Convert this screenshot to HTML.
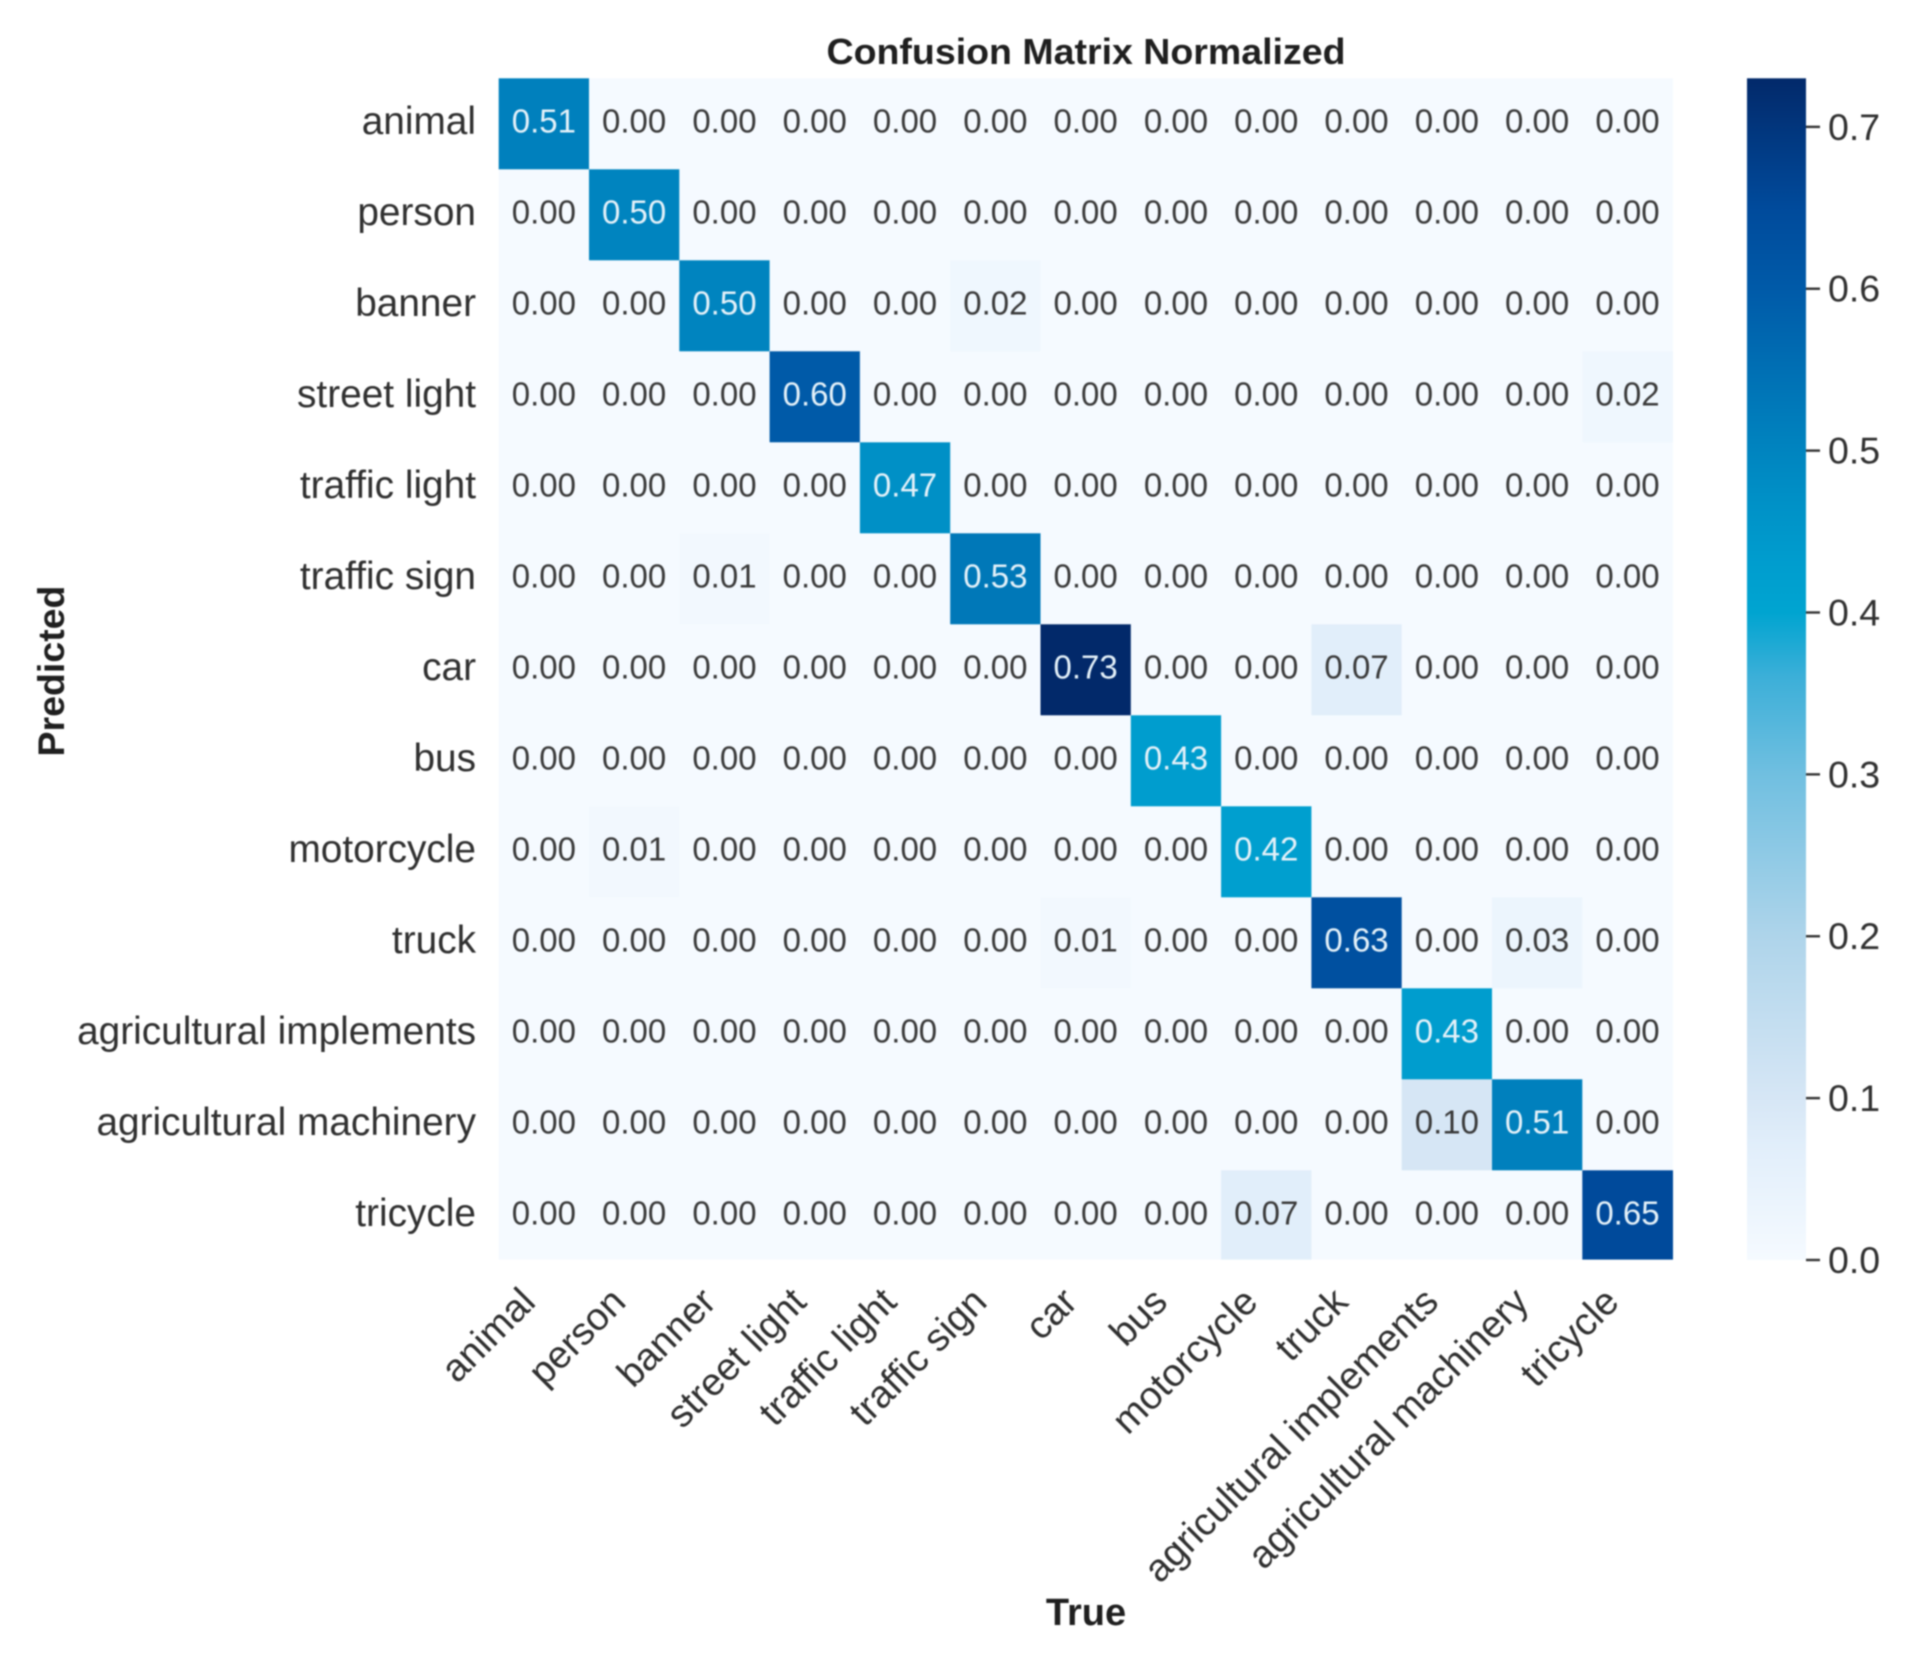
<!DOCTYPE html>
<html lang="en">
<head>
<meta charset="utf-8">
<title>Confusion Matrix Normalized</title>
<style>
  html, body { margin: 0; padding: 0; background: #ffffff; }
  #chart { display: block; filter: blur(0.7px); }
  text { font-family: "Liberation Sans", Arial, sans-serif; }
</style>
</head>
<body>
<svg id="chart" xmlns="http://www.w3.org/2000/svg" width="1925" height="1653" viewBox="0 0 1925 1653">
  <defs>
    <linearGradient id="cbar-gradient" x1="0" y1="1" x2="0" y2="0"></linearGradient>
  </defs>
  <rect x="0" y="0" width="1925" height="1653" fill="#ffffff"></rect>
  <text x="1086" y="64" font-size="36" font-weight="700" fill="#1f1f1f" text-anchor="middle" textLength="519" lengthAdjust="spacingAndGlyphs">Confusion Matrix Normalized</text>
  <text x="1086" y="1625" font-size="38" font-weight="700" fill="#1f1f1f" text-anchor="middle">True</text>
  <text transform="translate(64 671) rotate(-90)" font-size="37.5" font-weight="700" fill="#1f1f1f" text-anchor="middle">Predicted</text>
  <g id="cells"></g>
  <g id="values"></g>
  <g id="y-labels"></g>
  <g id="x-labels"></g>
  <g id="colorbar"></g>
</svg>
<script>
const categories = ["animal", "person", "banner", "street light", "traffic light", "traffic sign", "car", "bus", "motorcycle", "truck", "agricultural implements", "agricultural machinery", "tricycle"];
const row0 = [0.51, 0, 0, 0, 0, 0, 0, 0, 0, 0, 0, 0, 0];
const row1 = [0, 0.50, 0, 0, 0, 0, 0, 0, 0, 0, 0, 0, 0];
const row2 = [0, 0, 0.50, 0, 0, 0.02, 0, 0, 0, 0, 0, 0, 0];
const row3 = [0, 0, 0, 0.60, 0, 0, 0, 0, 0, 0, 0, 0, 0.02];
const row4 = [0, 0, 0, 0, 0.47, 0, 0, 0, 0, 0, 0, 0, 0];
const row5 = [0, 0, 0.01, 0, 0, 0.53, 0, 0, 0, 0, 0, 0, 0];
const row6 = [0, 0, 0, 0, 0, 0, 0.73, 0, 0, 0.07, 0, 0, 0];
const row7 = [0, 0, 0, 0, 0, 0, 0, 0.43, 0, 0, 0, 0, 0];
const row8 = [0, 0.01, 0, 0, 0, 0, 0, 0, 0.42, 0, 0, 0, 0];
const row9 = [0, 0, 0, 0, 0, 0, 0.01, 0, 0, 0.63, 0, 0.03, 0];
const row10 = [0, 0, 0, 0, 0, 0, 0, 0, 0, 0, 0.43, 0, 0];
const row11 = [0, 0, 0, 0, 0, 0, 0, 0, 0, 0, 0.10, 0.51, 0];
const row12 = [0, 0, 0, 0, 0, 0, 0, 0, 0.07, 0, 0, 0, 0.65];
const matrix = [row0, row1, row2, row3, row4, row5, row6, row7, row8, row9, row10, row11, row12];
const colorbarTicks = [0, 0.1, 0.2, 0.3, 0.4, 0.5, 0.6, 0.7];
const colorMin = 0;
const colorMax = 0.73;

const SVG_NS = "http://www.w3.org/2000/svg";
const plotLeft = 498.7, plotTop = 78.3, plotBottom = 1259.6, cellW = 90.3, cellH = 91;
const cbarLeft = 1747, cbarRight = 1806, cbarTop = 78.3, cbarBottom = 1260;

function xScale(i) { return plotLeft + i * cellW; }
function yScale(i) { return plotTop + i * cellH; }
function cbarY(v) { return cbarBottom + (v - colorMin) / (colorMax - colorMin) * (cbarTop - cbarBottom); }

/* Colormap anchors: [value, r, g, b] sampled from the reference colorbar. */
const ramp = [
  [0.00, 245, 250, 255],
  [0.07, 225, 238, 250],
  [0.10, 214, 230, 245],
  [0.20, 174, 212, 234],
  [0.30, 112, 191, 224],
  [0.36, 60, 175, 216],
  [0.40, 0, 164, 208],
  [0.43, 0, 157, 206],
  [0.47, 0, 144, 198],
  [0.51, 0, 128, 189],
  [0.60, 0, 90, 168],
  [0.65, 0, 74, 155],
  [0.73, 2, 41, 106]
];
function colorOf(v) {
  if (v <= ramp[0][0]) return "rgb(" + ramp[0].slice(1).join(",") + ")";
  for (let k = 1; k < ramp.length; k++) {
    if (v <= ramp[k][0]) {
      const a = ramp[k - 1], b = ramp[k];
      const t = (v - a[0]) / (b[0] - a[0]);
      return "rgb(" + [1, 2, 3].map(function (c) { return Math.round(a[c] + (b[c] - a[c]) * t); }).join(",") + ")";
    }
  }
  const last = ramp[ramp.length - 1];
  return "rgb(" + last.slice(1).join(",") + ")";
}
function slug(s) { return s.replace(/\s+/g, "-"); }

const cellsGroup = document.getElementById("cells");
const valuesGroup = document.getElementById("values");
const yLabelsGroup = document.getElementById("y-labels");
const xLabelsGroup = document.getElementById("x-labels");
const colorbarGroup = document.getElementById("colorbar");
const gradient = document.getElementById("cbar-gradient");

matrix.forEach(function (row, r) {
  row.forEach(function (value, c) {
    const cell = document.createElementNS(SVG_NS, "rect");
    
    
    cell.setAttribute("x", xScale(c));
    cell.setAttribute("y", yScale(r));
    cell.setAttribute("width", cellW + 0.4);
    cell.setAttribute("height", Math.min(cellH + 0.4, plotBottom - yScale(r)));
    cell.setAttribute("fill", colorOf(value));
    cellsGroup.appendChild(cell);

    const label = document.createElementNS(SVG_NS, "text");
    
    
    label.setAttribute("x", xScale(c) + cellW / 2);
    label.setAttribute("y", yScale(r) + cellH / 2 + 8.5);
    label.setAttribute("font-size", "33");
    label.setAttribute("text-anchor", "middle");
    label.setAttribute("fill", value > (colorMax - colorMin) / 2 ? "#e4f1f9" : "#3a3a3a");
    label.textContent = value.toFixed(2);
    valuesGroup.appendChild(label);
  });
});

categories.forEach(function (name, i) {
  const yLabel = document.createElementNS(SVG_NS, "text");
  
  
  yLabel.setAttribute("x", 476);
  yLabel.setAttribute("y", yScale(i) + cellH / 2 + 10);
  yLabel.setAttribute("font-size", "38.8");
  yLabel.setAttribute("text-anchor", "end");
  yLabel.setAttribute("fill", "#303030");
  yLabel.textContent = name;
  yLabelsGroup.appendChild(yLabel);

  const xLabel = document.createElementNS(SVG_NS, "text");
  const bx = xScale(i) + cellW / 2 - 6.5;
  const by = 1304;
  
  
  xLabel.setAttribute("transform", "translate(" + bx + " " + by + ") rotate(-45)");
  xLabel.setAttribute("font-size", "38.6");
  xLabel.setAttribute("text-anchor", "end");
  xLabel.setAttribute("fill", "#303030");
  xLabel.textContent = name;
  xLabelsGroup.appendChild(xLabel);
});

ramp.forEach(function (stopDef) {
  const stop = document.createElementNS(SVG_NS, "stop");
  stop.setAttribute("offset", (stopDef[0] - colorMin) / (colorMax - colorMin));
  stop.setAttribute("stop-color", "rgb(" + stopDef.slice(1).join(",") + ")");
  gradient.appendChild(stop);
});

const bar = document.createElementNS(SVG_NS, "rect");


bar.setAttribute("x", cbarLeft);
bar.setAttribute("y", cbarTop);
bar.setAttribute("width", cbarRight - cbarLeft);
bar.setAttribute("height", cbarBottom - cbarTop);
bar.setAttribute("fill", "url(#cbar-gradient)");
colorbarGroup.appendChild(bar);

colorbarTicks.forEach(function (tickValue) {
  const tick = document.createElementNS(SVG_NS, "line");
  
  
  tick.setAttribute("x1", cbarRight);
  tick.setAttribute("x2", cbarRight + 14);
  tick.setAttribute("y1", cbarY(tickValue));
  tick.setAttribute("y2", cbarY(tickValue));
  tick.setAttribute("stroke", "#333333");
  tick.setAttribute("stroke-width", "2.4");
  colorbarGroup.appendChild(tick);

  const tickLabel = document.createElementNS(SVG_NS, "text");
  
  
  tickLabel.setAttribute("x", 1828);
  tickLabel.setAttribute("y", cbarY(tickValue) + 13);
  tickLabel.setAttribute("font-size", "37.5");
  tickLabel.setAttribute("fill", "#303030");
  tickLabel.textContent = tickValue.toFixed(1);
  colorbarGroup.appendChild(tickLabel);
});
</script>
</body>
</html>
